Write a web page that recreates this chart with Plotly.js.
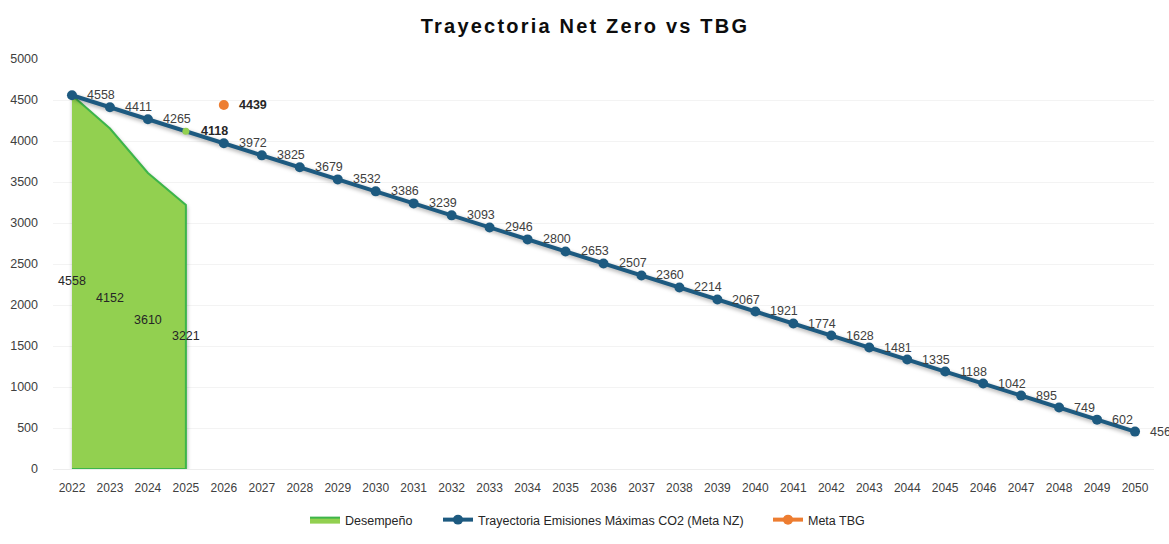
<!DOCTYPE html>
<html>
<head>
<meta charset="utf-8">
<script src="https://cdn.plot.ly/plotly-3.0.1.min.js"></script>
<style>
  html, body { margin: 0; padding: 0; background: #fff; }
  #chart { width: 1169px; height: 544px; }
  .gtitle { letter-spacing: 2.2px; }
  .scatterlayer .trace:nth-of-type(1) path.js-fill,
  .scatterlayer .trace:nth-of-type(3) path.js-line {
    filter: drop-shadow(1px 2px 2px rgba(0,0,0,0.35));
  }
</style>
</head>
<body>
<div id="chart"></div>
<script>
// ---- Data ----
const years = [2022, 2023, 2024, 2025, 2026, 2027, 2028, 2029, 2030, 2031, 2032, 2033, 2034, 2035,
  2036, 2037, 2038, 2039, 2040, 2041, 2042, 2043, 2044, 2045, 2046, 2047, 2048, 2049, 2050];
const desempenoYears = [2022, 2023, 2024, 2025];
const desempeno = [4558, 4152, 3610, 3221];
const trayectoriaNZ = [4558, 4411, 4265, 4118, 3972, 3825, 3679, 3532, 3386, 3239, 3093, 2946, 2800, 2653,
  2507, 2360, 2214, 2067, 1921, 1774, 1628, 1481, 1335, 1188, 1042, 895, 749, 602, 456];
const metaTBGYear = [2026];
const metaTBG = [4439];
const yTicks = [0, 500, 1000, 1500, 2000, 2500, 3000, 3500, 4000, 4500, 5000];

// ---- Styles ----
const BLUE = '#1D5A80';
const GREEN_FILL = '#92D050';
const GREEN_LINE = '#3DB54A';
const ORANGE = '#ED7D31';
const LABEL = '#404040';
const FONT = 'Liberation Sans, Arial, sans-serif';
const highlightYear = 2025;

// closed polygon for the area (top edge from data, then back along baseline)
const areaX = desempenoYears.concat([desempenoYears[desempenoYears.length - 1], desempenoYears[0]]);
const areaY = desempeno.concat([0, 0]);

const traces = [
  {
    x: areaX, y: areaY, type: 'scatter', mode: 'lines', fill: 'toself',
    fillcolor: GREEN_FILL, line: { color: GREEN_LINE, width: 2 },
    name: 'Desempeño', hoverinfo: 'skip', legend: 'legend'
  },
  {
    x: desempenoYears, y: desempeno.map(v => v / 2), type: 'scatter', mode: 'text',
    text: desempeno.map(String), textposition: 'middle center',
    textfont: { family: FONT, size: 12.5, color: '#262626' },
    showlegend: false, hoverinfo: 'skip', cliponaxis: false
  },
  {
    x: years, y: trayectoriaNZ, type: 'scatter', mode: 'lines+markers',
    name: 'Trayectoria Emisiones Máximas CO2 (Meta NZ)',
    line: { color: BLUE, width: 4 },
    marker: {
      color: years.map(y => y === highlightYear ? GREEN_FILL : BLUE),
      size: years.map(y => y === highlightYear ? 7 : 10),
      opacity: 1, line: { width: 0 }
    },
    cliponaxis: false, legend: 'legend2'
  },
  {
    x: metaTBGYear, y: metaTBG, type: 'scatter', mode: 'lines+markers',
    name: 'Meta TBG',
    line: { color: ORANGE, width: 4 },
    marker: { color: ORANGE, size: 10, opacity: 1, line: { width: 0 } },
    cliponaxis: false, legend: 'legend3'
  }
];

const annotations = years.map((yr, i) => ({
  x: yr, y: trayectoriaNZ[i], xref: 'x', yref: 'y',
  text: yr === highlightYear ? '<b>' + trayectoriaNZ[i] + '</b>' : String(trayectoriaNZ[i]),
  showarrow: false, xanchor: 'left', yanchor: 'middle', xshift: 13, yshift: 0,
  font: { family: FONT, size: 12.5, color: yr === highlightYear ? '#262626' : LABEL }
})).concat(metaTBGYear.map((yr, i) => ({
  x: yr, y: metaTBG[i], xref: 'x', yref: 'y',
  text: '<b>' + metaTBG[i] + '</b>',
  showarrow: false, xanchor: 'left', yanchor: 'middle', xshift: 13, yshift: 0,
  font: { family: FONT, size: 12.5, color: '#262626' }
})));

const W = 1169, H = 544, ML = 53, MR = 15;
const PW = W - ML - MR;
const legY = 1 - 520 / H;
function legendAt(px) {
  return {
    orientation: 'h', x: (px - ML) / PW, xref: 'paper', xanchor: 'left',
    y: legY, yref: 'container', yanchor: 'middle',
    font: { family: FONT, size: 12.5, color: '#262626' },
    bgcolor: 'rgba(0,0,0,0)', borderwidth: 0
  };
}

const layout = {
  width: W, height: H,
  paper_bgcolor: '#ffffff', plot_bgcolor: '#ffffff',
  margin: { l: ML, r: MR, t: 59, b: 75 },
  title: {
    text: '<b>Trayectoria Net Zero vs TBG</b>',
    x: 585 / W, xref: 'container', xanchor: 'center',
    y: 1 - 26 / H, yref: 'container', yanchor: 'middle',
    font: { family: FONT, size: 20, color: '#0D0D0D' }
  },
  xaxis: {
    range: [2021.5, 2050.5], tickmode: 'array', tickvals: years, ticktext: years.map(String),
    showgrid: false, zeroline: false, showline: true, linecolor: '#EDEDED', linewidth: 1,
    ticks: '', ticklabelstandoff: 8,
    tickfont: { family: FONT, size: 12, color: '#404040' }
  },
  yaxis: {
    range: [0, 5000], tickmode: 'array', tickvals: yTicks, ticktext: yTicks.map(String),
    showgrid: true, gridcolor: '#F3F3F3', gridwidth: 1, zeroline: false, showline: false,
    ticks: '', ticklabelstandoff: 14,
    tickfont: { family: FONT, size: 12.5, color: '#404040' }
  },
  showlegend: true,
  legend: legendAt(305),
  legend2: legendAt(438),
  legend3: legendAt(768),
  annotations: annotations,
  hovermode: false
};

Plotly.newPlot('chart', traces, layout, { displayModeBar: false, staticPlot: true });
</script>
</body>
</html>
